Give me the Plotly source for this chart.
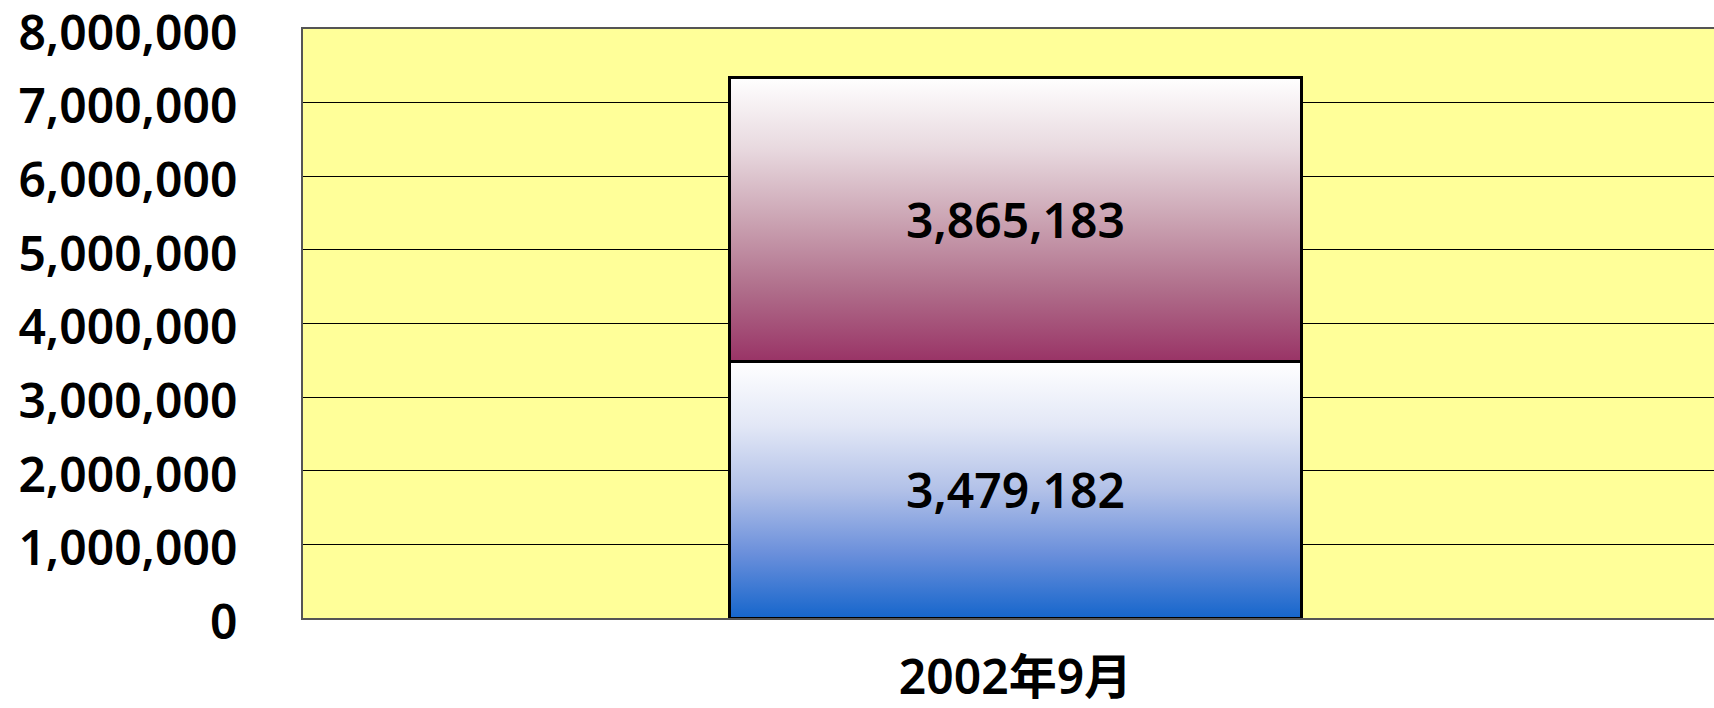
import plotly.graph_objects as go

# Monthly totals, stacked in two parts
categories = ["2002年9月"]
lower_values = [3479182]
upper_values = [3865183]
y_tick_values = [0, 1000000, 2000000, 3000000, 4000000, 5000000, 6000000, 7000000, 8000000]
y_tick_labels = ["0", "1,000,000", "2,000,000", "3,000,000", "4,000,000",
                 "5,000,000", "6,000,000", "7,000,000", "8,000,000"]

# Style
BAR_WIDTH = 0.402
X_RANGE = [-0.5, 0.4902]
Y_RANGE = [0, 8000000]
FONT = "Noto Sans, Noto Sans CJK JP, sans-serif"
FONT_SIZE = 48
FONT_WEIGHT = 600
LOWER_SCALE = [[0, "#1666CC"], [0.25, "#6A8FDB"], [0.5, "#B2C1E8"],
               [0.75, "#E2E7F6"], [1, "#FFFFFF"]]
UPPER_SCALE = [[0, "#993366"], [0.25, "#AF6D8A"], [0.5, "#CBA4B3"],
               [0.75, "#E8D9DF"], [1, "#FFFFFF"]]

x_pos = list(range(len(categories)))
fig = go.Figure()

# Gradient fills for each stacked segment (drawn on the base axes)
for i, xc in enumerate(x_pos):
    left, right = xc - BAR_WIDTH / 2, xc + BAR_WIDTH / 2
    segments = [
        (0, lower_values[i], LOWER_SCALE),
        (lower_values[i], lower_values[i] + upper_values[i], UPPER_SCALE),
    ]
    for base, top, scale in segments:
        fig.add_trace(go.Scatter(
            x=[left, right, right, left, left],
            y=[base, base, top, top, base],
            mode="lines", line=dict(width=0),
            fill="toself",
            fillgradient=dict(type="vertical", colorscale=scale),
            hoverinfo="skip", showlegend=False,
        ))

# Outlined stacked bars with value labels (overlay axes, above the fills)
for vals in (lower_values, upper_values):
    fig.add_trace(go.Bar(
        x=x_pos, y=vals, width=BAR_WIDTH,
        xaxis="x2", yaxis="y2",
        marker=dict(color="rgba(0,0,0,0)", line=dict(color="#000000", width=3)),
        text=[f"{v:,}" for v in vals],
        textposition="inside", insidetextanchor="middle",
        insidetextfont=dict(family=FONT, size=FONT_SIZE, color="#000000",
                            weight=FONT_WEIGHT),
        showlegend=False,
    ))

tick_font = dict(family=FONT, size=FONT_SIZE, color="#000000", weight=FONT_WEIGHT)

fig.update_layout(
    width=1714, height=708,
    margin=dict(l=303, r=0, t=29, b=90, autoexpand=False),
    paper_bgcolor="#FFFFFF",
    plot_bgcolor="#FFFF99",
    barmode="stack",
    showlegend=False,
    font=dict(family=FONT, size=FONT_SIZE, color="#000000"),
    xaxis=dict(
        range=X_RANGE, tickmode="array", tickvals=x_pos, ticktext=categories,
        showgrid=False, zeroline=False, ticks="", automargin=False,
        showline=True, linecolor="#555555", linewidth=2, mirror=True,
        ticklabelstandoff=16, ticklabeloverflow="allow",
        tickfont=tick_font,
    ),
    yaxis=dict(
        range=Y_RANGE, tickmode="array", tickvals=y_tick_values, ticktext=y_tick_labels,
        showgrid=True, gridcolor="#000000", gridwidth=1, zeroline=False,
        showline=True, linecolor="#555555", linewidth=2, automargin=False,
        ticks="inside", ticklen=16, tickcolor="#000000", tickwidth=1,
        ticklabelstandoff=54, ticklabelshift=4, ticklabeloverflow="allow",
        tickfont=tick_font,
    ),
    xaxis2=dict(range=X_RANGE, overlaying="x", visible=False),
    yaxis2=dict(range=Y_RANGE, overlaying="y", visible=False),
)

fig.write_html("out.html")
